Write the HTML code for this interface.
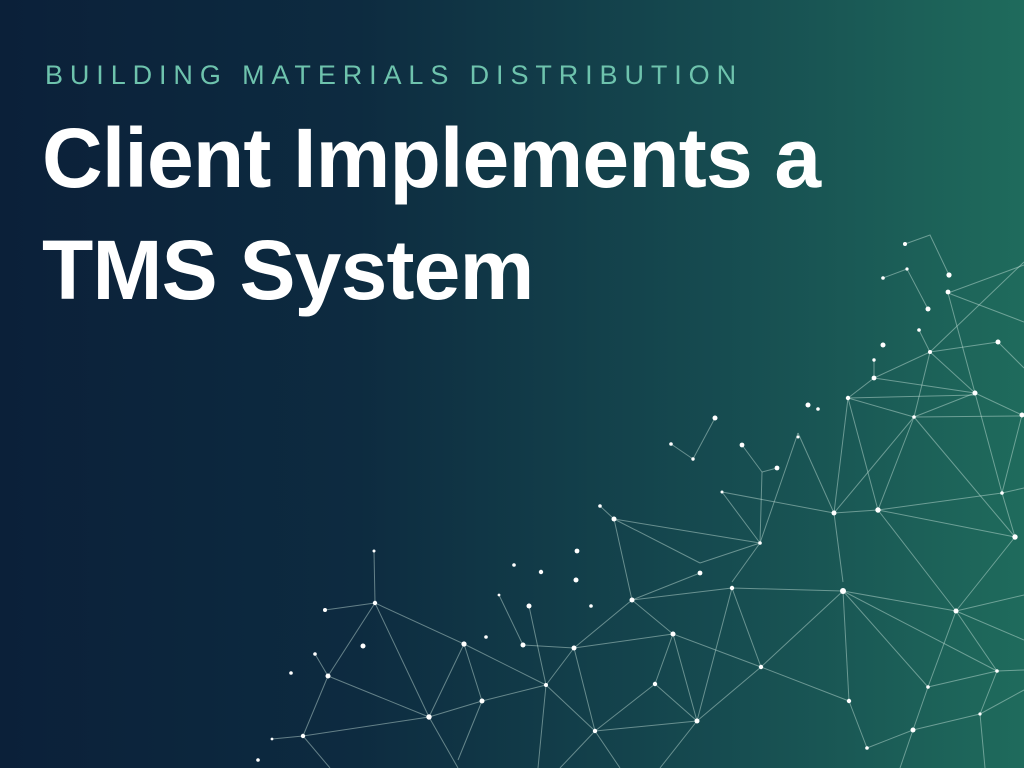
<!DOCTYPE html>
<html><head><meta charset="utf-8"><style>
html,body{margin:0;padding:0}
body{width:1024px;height:768px;overflow:hidden;position:relative;background:linear-gradient(90deg,#0b2039 0%,#0d2b40 35%,#164b50 70%,#1f6b5c 100%);font-family:"Liberation Sans",sans-serif}
.sub{position:absolute;left:45px;top:60px;font-size:27px;letter-spacing:6.9px;color:#6ec3ad;white-space:nowrap}
.t{position:absolute;left:42px;color:#fff;font-weight:bold;font-size:84px;white-space:nowrap;letter-spacing:-0.8px}
svg{position:absolute;left:0;top:0}
</style></head><body>
<div class="sub">BUILDING MATERIALS DISTRIBUTION</div>
<div class="t" style="top:110px">Client Implements a</div>
<div class="t" style="top:222px">TMS System</div>
<svg width="1024" height="768">
<g stroke="#cfe9e0" stroke-opacity="0.45" stroke-width="1" fill="none">
<polyline points="905,244 930,235 949,275"/>
<polyline points="883,278 907,269 928,309"/>
<polyline points="1024,265 948,293 1024,322"/>
<line x1="948" y1="293" x2="1002" y2="493"/>
<line x1="1024" y1="262" x2="930" y2="352"/>
<line x1="919" y1="330" x2="930" y2="352"/>
<line x1="930" y1="352" x2="998" y2="342"/>
<line x1="930" y1="352" x2="975" y2="393"/>
<line x1="930" y1="352" x2="914" y2="417"/>
<line x1="930" y1="352" x2="874" y2="378"/>
<line x1="998" y1="342" x2="1024" y2="368"/>
<line x1="874" y1="360" x2="874" y2="378"/>
<line x1="874" y1="378" x2="848" y2="398"/>
<line x1="874" y1="378" x2="975" y2="393"/>
<line x1="848" y1="398" x2="975" y2="395"/>
<line x1="848" y1="398" x2="914" y2="417"/>
<line x1="975" y1="393" x2="1022" y2="415"/>
<line x1="975" y1="393" x2="914" y2="417"/>
<line x1="914" y1="417" x2="1022" y2="416"/>
<line x1="1002" y1="493" x2="1024" y2="488"/>
<line x1="848" y1="398" x2="834" y2="513"/>
<line x1="848" y1="398" x2="878" y2="510"/>
<line x1="914" y1="417" x2="834" y2="513"/>
<line x1="914" y1="417" x2="878" y2="510"/>
<line x1="914" y1="417" x2="1015" y2="537"/>
<line x1="1022" y1="415" x2="1002" y2="493"/>
<line x1="1002" y1="493" x2="1015" y2="537"/>
<line x1="798" y1="433" x2="834" y2="513"/>
<line x1="798" y1="433" x2="760" y2="543"/>
<line x1="693" y1="459" x2="715" y2="418"/>
<line x1="671" y1="444" x2="693" y2="459"/>
<line x1="742" y1="445" x2="762" y2="472"/>
<line x1="762" y1="472" x2="777" y2="468"/>
<line x1="762" y1="472" x2="760" y2="543"/>
<line x1="834" y1="513" x2="878" y2="510"/>
<line x1="722" y1="492" x2="834" y2="513"/>
<line x1="878" y1="510" x2="1002" y2="493"/>
<line x1="878" y1="510" x2="1015" y2="537"/>
<line x1="878" y1="510" x2="956" y2="611"/>
<line x1="834" y1="513" x2="843" y2="582"/>
<line x1="614" y1="519" x2="760" y2="543"/>
<line x1="614" y1="519" x2="700" y2="563"/>
<line x1="600" y1="506" x2="614" y2="519"/>
<line x1="614" y1="519" x2="632" y2="600"/>
<line x1="760" y1="543" x2="700" y2="563"/>
<line x1="760" y1="543" x2="732" y2="582"/>
<line x1="722" y1="492" x2="760" y2="543"/>
<line x1="700" y1="573" x2="632" y2="600"/>
<line x1="632" y1="600" x2="673" y2="634"/>
<line x1="632" y1="600" x2="732" y2="588"/>
<line x1="732" y1="588" x2="843" y2="591"/>
<line x1="732" y1="588" x2="761" y2="667"/>
<line x1="732" y1="588" x2="697" y2="721"/>
<line x1="843" y1="591" x2="761" y2="667"/>
<line x1="843" y1="591" x2="956" y2="611"/>
<line x1="843" y1="591" x2="849" y2="701"/>
<line x1="843" y1="591" x2="928" y2="687"/>
<line x1="843" y1="591" x2="997" y2="671"/>
<line x1="956" y1="611" x2="997" y2="671"/>
<line x1="956" y1="611" x2="1024" y2="595"/>
<line x1="956" y1="611" x2="1024" y2="640"/>
<line x1="956" y1="611" x2="928" y2="687"/>
<line x1="1015" y1="537" x2="956" y2="611"/>
<line x1="997" y1="671" x2="928" y2="687"/>
<line x1="997" y1="671" x2="980" y2="714"/>
<line x1="997" y1="671" x2="1024" y2="670"/>
<line x1="928" y1="687" x2="913" y2="730"/>
<line x1="980" y1="714" x2="913" y2="730"/>
<line x1="980" y1="714" x2="1024" y2="690"/>
<line x1="980" y1="714" x2="985" y2="768"/>
<line x1="913" y1="730" x2="867" y2="748"/>
<line x1="849" y1="701" x2="867" y2="748"/>
<line x1="849" y1="701" x2="761" y2="667"/>
<line x1="761" y1="667" x2="697" y2="721"/>
<line x1="761" y1="667" x2="673" y2="634"/>
<line x1="673" y1="634" x2="655" y2="684"/>
<line x1="673" y1="634" x2="697" y2="721"/>
<line x1="673" y1="634" x2="574" y2="648"/>
<line x1="632" y1="600" x2="574" y2="648"/>
<line x1="655" y1="684" x2="697" y2="721"/>
<line x1="655" y1="684" x2="595" y2="731"/>
<line x1="697" y1="721" x2="595" y2="731"/>
<line x1="697" y1="721" x2="660" y2="768"/>
<line x1="913" y1="730" x2="900" y2="768"/>
<line x1="574" y1="648" x2="546" y2="685"/>
<line x1="574" y1="648" x2="595" y2="731"/>
<line x1="574" y1="648" x2="523" y2="645"/>
<line x1="546" y1="685" x2="482" y2="701"/>
<line x1="546" y1="685" x2="595" y2="731"/>
<line x1="546" y1="685" x2="529" y2="606"/>
<line x1="546" y1="685" x2="538" y2="768"/>
<line x1="546" y1="685" x2="464" y2="644"/>
<line x1="499" y1="595" x2="523" y2="645"/>
<line x1="482" y1="701" x2="429" y2="717"/>
<line x1="482" y1="701" x2="464" y2="644"/>
<line x1="482" y1="701" x2="458" y2="760"/>
<line x1="464" y1="644" x2="375" y2="603"/>
<line x1="464" y1="644" x2="429" y2="717"/>
<line x1="375" y1="603" x2="325" y2="610"/>
<line x1="375" y1="603" x2="429" y2="717"/>
<line x1="375" y1="603" x2="328" y2="676"/>
<line x1="375" y1="603" x2="374" y2="551"/>
<line x1="328" y1="676" x2="429" y2="717"/>
<line x1="328" y1="676" x2="303" y2="736"/>
<line x1="328" y1="676" x2="315" y2="654"/>
<line x1="429" y1="717" x2="303" y2="736"/>
<line x1="429" y1="717" x2="458" y2="768"/>
<line x1="303" y1="736" x2="272" y2="739"/>
<line x1="303" y1="736" x2="330" y2="768"/>
<line x1="595" y1="731" x2="560" y2="768"/>
<line x1="595" y1="731" x2="620" y2="768"/>
</g>
<g fill="#fff">
<circle cx="905" cy="244" r="2"/><circle cx="949" cy="275" r="2.6"/><circle cx="883" cy="278" r="1.8"/><circle cx="907" cy="269" r="1.6"/><circle cx="928" cy="309" r="2.5"/><circle cx="948" cy="292" r="2.4"/><circle cx="919" cy="330" r="1.8"/><circle cx="883" cy="345" r="2.5"/><circle cx="930" cy="352" r="2"/><circle cx="998" cy="342" r="2.5"/><circle cx="874" cy="360" r="1.7"/><circle cx="874" cy="378" r="2.4"/><circle cx="848" cy="398" r="2.2"/><circle cx="975" cy="393" r="2.5"/><circle cx="1022" cy="415" r="2.5"/><circle cx="914" cy="417" r="1.8"/><circle cx="1002" cy="493" r="1.8"/><circle cx="834" cy="513" r="2.5"/><circle cx="878" cy="510" r="2.7"/><circle cx="1015" cy="537" r="2.7"/><circle cx="808" cy="405" r="2.5"/><circle cx="818" cy="409" r="1.8"/><circle cx="798" cy="437" r="1.5"/><circle cx="742" cy="445" r="2.4"/><circle cx="715" cy="418" r="2.5"/><circle cx="671" cy="444" r="1.8"/><circle cx="693" cy="459" r="1.7"/><circle cx="777" cy="468" r="2.4"/><circle cx="722" cy="492" r="1.5"/><circle cx="760" cy="543" r="1.8"/><circle cx="614" cy="519" r="2.5"/><circle cx="600" cy="506" r="1.8"/><circle cx="700" cy="573" r="2.4"/><circle cx="732" cy="588" r="2.2"/><circle cx="843" cy="591" r="3"/><circle cx="956" cy="611" r="2.5"/><circle cx="632" cy="600" r="2.5"/><circle cx="673" cy="634" r="2.5"/><circle cx="655" cy="684" r="2.2"/><circle cx="697" cy="721" r="2.5"/><circle cx="761" cy="667" r="2.2"/><circle cx="849" cy="701" r="2.2"/><circle cx="928" cy="687" r="1.8"/><circle cx="997" cy="671" r="1.8"/><circle cx="980" cy="714" r="1.6"/><circle cx="913" cy="730" r="2.5"/><circle cx="867" cy="748" r="1.8"/><circle cx="374" cy="551" r="1.5"/><circle cx="375" cy="603" r="2.2"/><circle cx="464" cy="644" r="2.6"/><circle cx="325" cy="610" r="2"/><circle cx="363" cy="646" r="2.5"/><circle cx="315" cy="654" r="1.8"/><circle cx="328" cy="676" r="2.5"/><circle cx="291" cy="673" r="1.8"/><circle cx="429" cy="717" r="2.7"/><circle cx="482" cy="701" r="2.5"/><circle cx="546" cy="685" r="2"/><circle cx="574" cy="648" r="2.5"/><circle cx="523" cy="645" r="2.5"/><circle cx="499" cy="595" r="1.4"/><circle cx="529" cy="606" r="2.5"/><circle cx="541" cy="572" r="2.2"/><circle cx="514" cy="565" r="1.8"/><circle cx="577" cy="551" r="2.4"/><circle cx="576" cy="580" r="2.5"/><circle cx="591" cy="606" r="1.8"/><circle cx="486" cy="637" r="1.8"/><circle cx="595" cy="731" r="2.2"/><circle cx="303" cy="736" r="2.2"/><circle cx="272" cy="739" r="1.4"/><circle cx="258" cy="760" r="1.8"/>
</g>
</svg>
</body></html>
